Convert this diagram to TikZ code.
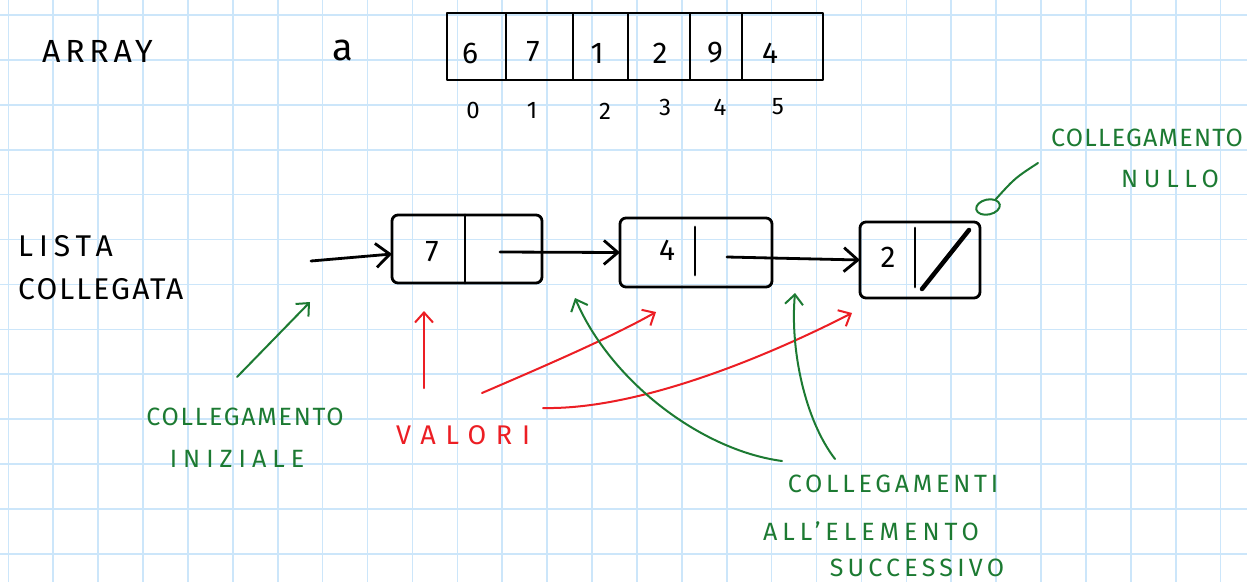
\documentclass[tikz,border=0pt]{standalone}
\usepackage{fontspec}
\setmainfont{Fira Sans}
\usetikzlibrary{arrows.meta,shapes.geometric,calc}
\definecolor{gridblue}{RGB}{204,230,250}
\definecolor{inkgreen}{RGB}{28,122,50}
\definecolor{inkred}{RGB}{236,30,36}
\begin{document}
\begin{tikzpicture}[x=1pt,y=-1pt,
  gridline/.style={draw=gridblue,line width=1.6pt},
  ink/.style={line width=2.8pt,line cap=round,line join=round},
  cell/.style={ink,draw,rectangle,inner sep=0pt,outer sep=0pt,minimum height=67pt},
  digit/.style={inner sep=0pt,font=\fontsize{30}{32}\selectfont},
  idx/.style={inner sep=0pt,font=\fontsize{24}{26}\selectfont},
  hand/.style 2 args={inner sep=0pt,font=\fontsize{#1}{#1}\selectfont\addfontfeature{LetterSpace=#2}},
  listnode/.style={ink,draw,rectangle,rounded corners=6pt,inner sep=0pt,outer sep=0pt},
  blackarrow/.style={ink,-{Straight Barb[length=14pt,width=24pt]}},
  note/.style={line width=2pt,line cap=round,-{Straight Barb[length=10pt,width=18pt]}},
  gnote/.style={note,draw=inkgreen},
  rnote/.style={note,draw=inkred},
]
% page and squared paper
\useasboundingbox (0,0) rectangle (1247,582);
\fill[white] (0,0) rectangle (1247,582);
\foreach \k in {0,...,27} \draw[gridline] (8.3+44.9*\k,0) -- ++(0,582);
\foreach \k in {0,...,12} \draw[gridline] (0,15+44.9*\k) -- ++(1247,0);

% ---------- array ----------
\node[hand={32}{15},anchor=west] (arraylbl) at (42,51) {ARRAY};
\node[inner sep=0pt,font=\fontsize{38}{40}\selectfont] (aname) at (343,50) {a};

\node[cell,minimum width=59pt] (c0) at (476.5,46.5) {};
\node[cell,minimum width=67pt,anchor=west] (c1) at (c0.east) {};
\node[cell,minimum width=55pt,anchor=west] (c2) at (c1.east) {};
\node[cell,minimum width=62pt,anchor=west] (c3) at (c2.east) {};
\node[cell,minimum width=52pt,anchor=west] (c4) at (c3.east) {};
\node[cell,minimum width=81pt,anchor=west] (c5) at (c4.east) {};

\node[digit] (v0) at (470,53) {6};
\node[digit] (v1) at (533,52) {7};
\node[digit] (v2) at (597,53) {1};
\node[digit] (v3) at (660,53) {2};
\node[digit] (v4) at (715,53) {9};
\node[digit] (v5) at (770,53) {4};

\node[idx] (i0) at (473,110) {0};
\node[idx] (i1) at (532,110) {1};
\node[idx] (i2) at (605,111) {2};
\node[idx] (i3) at (665,107) {3};
\node[idx] (i4) at (720,107) {4};
\node[idx] (i5) at (778,107) {5};

% ---------- linked list ----------
\node[hand={30}{20},anchor=west] (listlbl1) at (18,246) {LISTA};
\node[hand={30}{7},anchor=west] (listlbl2) at (18,289) {COLLEGATA};

\node[listnode,minimum width=150pt,minimum height=68pt] (l1) at (467,249) {};
\node[digit] (l1v) at (432,252) {7};
\draw[ink] ($(l1.north west)+(73,0)$) -- ($(l1.south west)+(73,0)$);
\coordinate (l1ptr) at (500,252);

\node[listnode,minimum width=152pt,minimum height=69pt] (l2) at (696,252.5) {};
\node[digit] (l2v) at (667,250) {4};
\draw[ink] (695,227) -- (695,275);
\coordinate (l2ptr) at (727,257);

\node[listnode,minimum width=120pt,minimum height=76pt] (l3) at (920,260) {};
\node[digit] (l3v) at (888,257) {2};
\draw[ink] (915,228) -- (915,287);
\draw[line width=4.5pt,line cap=round] (922,289) -- (969,230);

\coordinate (head) at (311,261);
\draw[blackarrow] (head) -- ($(l1.west)+(0,5)$);
\draw[blackarrow] (l1ptr) -- (l2.west);
\draw[blackarrow] (l2ptr) -- (l3.west);

% ---------- null link note ----------
\node[hand={25}{5},text=inkgreen] (nulllbl1) at (1147,138) {COLLEGAMENTO};
\node[hand={25}{23},text=inkgreen] (nulllbl2) at (1170,179) {NULLO};
\node[draw=inkgreen,line width=2pt,ellipse,minimum width=24pt,minimum height=15pt,inner sep=0pt,rotate=12] (nullmark) at (988,207) {};
\coordinate (nullfrom) at (1038,163);
\draw[inkgreen,line width=2pt,line cap=round] (nullfrom) .. controls (1015,178) .. (nullmark.north east);

% ---------- head link note ----------
\node[hand={25}{7},text=inkgreen] (inilbl1) at (245,417) {COLLEGAMENTO};
\node[hand={25}{24},text=inkgreen] (inilbl2) at (237,459) {INIZIALE};
\coordinate (inifrom) at (237,377);
\coordinate (initip) at (310,302);
\draw[gnote] (inifrom) -- (initip);

% ---------- values note ----------
\node[hand={27}{36},text=inkred] (vallbl) at (463,435) {VALORI};
\coordinate (val0) at (424,388);
\coordinate (val0tip) at (424,311);
\coordinate (val1) at (482,393);
\coordinate (val1tip) at (656,312);
\coordinate (val2) at (543,408);
\coordinate (val2tip) at (852,313);
\draw[rnote] (val0) -- (val0tip);
\draw[rnote] (val1) .. controls (540,368) and (610,338) .. (val1tip);
\draw[rnote] (val2) .. controls (640,410) and (770,355) .. (val2tip);

% ---------- next links note ----------
\node[hand={25}{15},text=inkgreen] (nextlbl1) at (893,484) {COLLEGAMENTI};
\node[hand={25}{20},text=inkgreen] (nextlbl2) at (871,531) {ALL'ELEMENTO};
\node[hand={25}{17},text=inkgreen] (nextlbl3) at (917,568) {SUCCESSIVO};
\coordinate (nx1) at (782,461);
\coordinate (nx1tip) at (575,298);
\coordinate (nx2) at (835,459);
\coordinate (nx2tip) at (795,293);
\draw[gnote] (nx1) .. controls (700,450) and (610,380) .. (nx1tip);
\draw[gnote] (nx2) .. controls (805,420) and (790,350) .. (nx2tip);
\end{tikzpicture}
\end{document}
